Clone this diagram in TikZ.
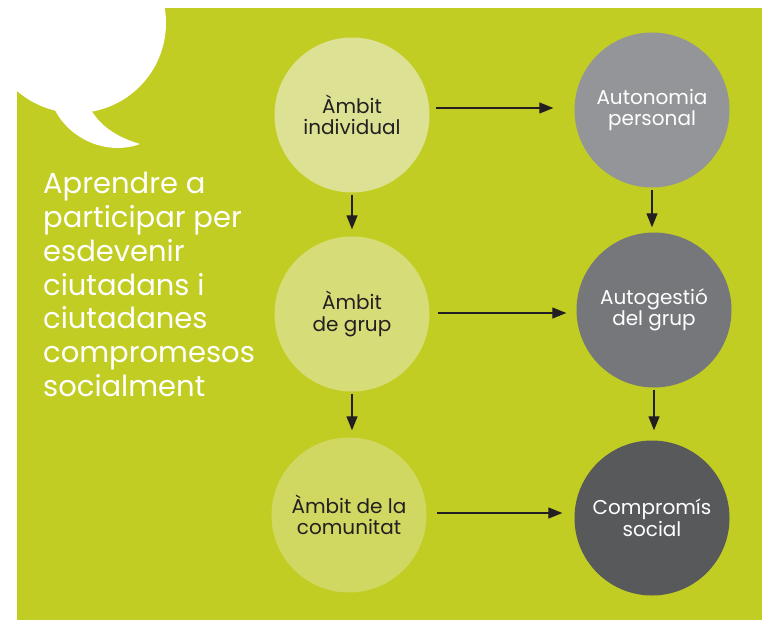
\documentclass[tikz,border=0pt]{standalone}
\usepackage{fontspec}
\setmainfont{Poppins}
\usetikzlibrary{arrows.meta}
\definecolor{bggreen}{HTML}{C2CD23}
\definecolor{lightA}{HTML}{DDE193}
\definecolor{lightB}{HTML}{D6DC78}
\definecolor{lightC}{HTML}{D0D862}
\definecolor{greyA}{HTML}{939598}
\definecolor{greyB}{HTML}{76777B}
\definecolor{greyC}{HTML}{58595B}
\definecolor{darktext}{HTML}{231F20}
\tikzset{
  bubble/.style={circle, minimum size=155pt, inner sep=0pt, align=center,
    font=\fontsize{20}{21.5}\selectfont},
  lightbubble/.style={bubble, text=darktext},
  greybubble/.style={bubble, text=white},
  arr/.style={line width=1.3pt, draw=darktext,
    -{Triangle[length=14pt,width=11pt]}},
}
\begin{document}
\begin{tikzpicture}[x=1pt,y=-1pt]
\useasboundingbox (0,0) rectangle (762,620);
\fill[white] (0,0) rectangle (762,620);
\fill[bggreen] (17,8) rectangle (762,620);
% speech bubble
\fill[white] (76,23) circle[radius=90];
\fill[white] (53,106) .. controls (68,140) and (108,156) .. (140,144)
  .. controls (116,137) and (99,125) .. (90,108) -- cycle;
% title
\node[anchor=north west, align=left, text=white,
  font=\fontsize{29}{33.8}\selectfont, inner sep=0pt] (title) at (43,172)
  {Aprendre a\\participar per\\esdevenir\\ciutadans i\\ciutadanes\\compromesos\\socialment};
% circles
\node[lightbubble, fill=lightA] (ai) at (352,115) {Àmbit\\individual};
\node[lightbubble, fill=lightB] (ag) at (352,314) {Àmbit\\de grup};
\node[lightbubble, fill=lightC] (ac) at (349,515) {Àmbit de la\\comunitat};
\node[greybubble, fill=greyA] (ap) at (652,110) {Autonomia\\personal};
\node[greybubble, fill=greyB] (ad) at (654,310) {Autogestió\\del grup};
\node[greybubble, fill=greyC] (cs) at (652,518) {Compromís\\social};
% arrows
\draw[arr, shorten <=6pt, shorten >=21pt] ([yshift=7pt]ai.east) -- ([yshift=2pt]ap.west);
\draw[arr, shorten <=8pt, shorten >=10pt] ([yshift=1pt]ag.east) -- ([yshift=-3pt]ad.west);
\draw[arr, shorten <=10pt, shorten >=12pt] ([yshift=2pt]ac.east) -- ([yshift=5pt]cs.west);
\draw[arr, shorten <=2pt, shorten >=7pt] (ai.south) -- (ai.south |- ag.north);
\draw[arr, shorten <=2pt, shorten >=7pt] (ag.south) -- (ag.south |- ac.north);
\draw[arr, shorten <=2pt, shorten >=5pt] (ap.south) -- (ap.south |- ad.north);
\draw[arr, shorten <=2pt, shorten >=10pt] (ad.south) -- (ad.south |- cs.north);
\end{tikzpicture}
\end{document}
